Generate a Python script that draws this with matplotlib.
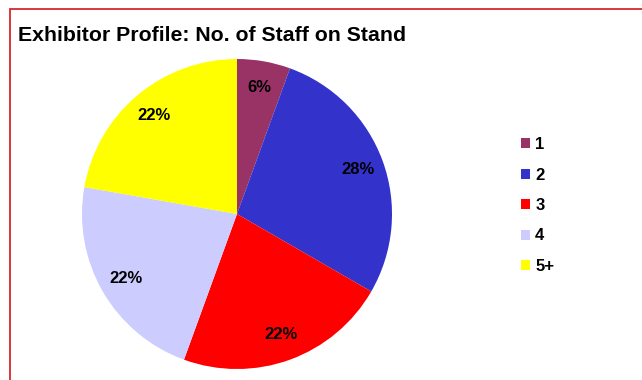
import matplotlib
matplotlib.use("Agg")
import matplotlib.pyplot as plt
from matplotlib.patches import Rectangle

plt.rcParams['font.family'] = ['Liberation Sans', 'DejaVu Sans']

# Number of staff on stand, as exhibitor counts
categories = ["1", "2", "3", "4", "5+"]
counts = [1, 5, 4, 4, 4]
colors = ["#993366", "#3333CC", "#FF0000", "#CCCCFF", "#FFFF00"]
title = "Exhibitor Profile: No. of Staff on Stand"

W, H = 642, 380
fig = plt.figure(figsize=(W / 100, H / 100), dpi=100)
fig.patch.set_facecolor("white")

# red frame around the chart area
frame = Rectangle((10 / W, -0.1), 2.0, (H - 9) / H + 0.1,
                  transform=fig.transFigure, fill=False,
                  edgecolor="#D9262C", linewidth=1.3)
fig.patches.append(frame)

fig.text(18 / W, (H - 41) / H, title, fontsize=15.3, fontweight="bold",
         ha="left", va="baseline", color="black")

cx, cy, r = 237, H - 214, 155
ax = fig.add_axes([(cx - r) / W, (cy - r) / H, 2 * r / W, 2 * r / H])
wedges, texts, autotexts = ax.pie(
    counts, colors=colors, startangle=90, counterclock=False,
    autopct="%.0f%%", pctdistance=0.83, radius=1,
    wedgeprops=dict(edgecolor="none", linewidth=0),
    textprops=dict(fontsize=12, fontweight="bold", color="black"))
ax.set_xlim(-1, 1)
ax.set_ylim(-1, 1)
ax.set_aspect("equal")
ax.axis("off")

leg = fig.legend(wedges, categories, loc="upper left",
                 bbox_to_anchor=(521 / W, (H - 137) / H),
                 frameon=False, prop=dict(size=12, weight="bold"),
                 handlelength=0.55, handleheight=0.55, handletextpad=0.3,
                 labelspacing=0.93, borderpad=0, borderaxespad=0)

fig.savefig("out.png", dpi=100)
